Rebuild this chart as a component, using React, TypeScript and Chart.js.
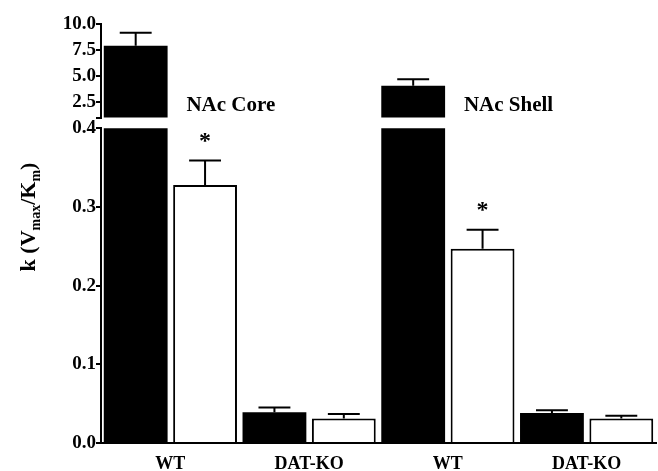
import React, { useEffect, useRef } from "react";
import { Chart, registerables } from "chart.js";

Chart.register(...registerables);

// ---- data ----
const categories = ["WT", "DAT-KO", "WT", "DAT-KO"];
const regionLabels = ["NAc Core", "NAc Shell"];
const regionIndex = [0, 2];
const blackMeans = [7.91, 0.039, 4.07, 0.038];
const blackErrors = [1.25, 0.006, 0.61, 0.0035];
const whiteMeans = [0.328, 0.031, 0.247, 0.031];
const whiteErrors = [0.031, 0.006, 0.024, 0.0035];
const whiteSignificant = [true, false, true, false];
const upperTicks = [2.5, 5.0, 7.5, 10.0];
const lowerTicks = [0.0, 0.1, 0.2, 0.3, 0.4];
const upperRange = [1.0, 10.0];
const lowerRange = [0.0, 0.4];

const W = 658;
const H = 471;
const FONT = "'Liberation Serif', 'Times New Roman', serif";
const AXIS_W = 101;

const errorSets = [blackErrors, whiteErrors];

const errorBarPlugin = {
  id: "errorBars",
  afterDatasetsDraw(chart: any) {
    const { ctx, chartArea } = chart;
    const yScale = chart.scales.y;
    ctx.save();
    ctx.beginPath();
    ctx.rect(chartArea.left, chartArea.top - 1, chartArea.right - chartArea.left, chartArea.bottom - chartArea.top + 1);
    ctx.clip();
    ctx.strokeStyle = "#000";
    ctx.lineWidth = 2;
    chart.data.datasets.forEach((ds: any, di: number) => {
      const meta = chart.getDatasetMeta(di);
      const errs = errorSets[di];
      meta.data.forEach((bar: any, i: number) => {
        const v = ds.data[i];
        const e = errs[i];
        const x = bar.x;
        const half = bar.width / 4;
        const yTop = yScale.getPixelForValue(v);
        const yCap = yScale.getPixelForValue(v + e);
        ctx.beginPath();
        ctx.moveTo(x, yTop);
        ctx.lineTo(x, yCap);
        ctx.moveTo(x - half, yCap);
        ctx.lineTo(x + half, yCap);
        ctx.stroke();
      });
    });
    ctx.restore();
  },
};

const regionLabelPlugin = {
  id: "regionLabels",
  afterDraw(chart: any) {
    const { ctx } = chart;
    const xScale = chart.scales.x;
    const yScale = chart.scales.y;
    ctx.save();
    ctx.font = `bold 21px ${FONT}`;
    ctx.fillStyle = "#000";
    ctx.textAlign = "left";
    ctx.textBaseline = "middle";
    regionLabels.forEach((t, k) => {
      const x = xScale.getPixelForValue(regionIndex[k]) + 16;
      const y = yScale.getPixelForValue(2.2);
      ctx.fillText(t, x, y);
    });
    ctx.restore();
  },
};

const asteriskPlugin = {
  id: "asterisks",
  afterDatasetsDraw(chart: any) {
    const { ctx } = chart;
    const yScale = chart.scales.y;
    const meta = chart.getDatasetMeta(1);
    ctx.save();
    ctx.font = `bold 24px ${FONT}`;
    ctx.fillStyle = "#000";
    ctx.textAlign = "center";
    ctx.textBaseline = "alphabetic";
    meta.data.forEach((bar: any, i: number) => {
      if (!whiteSignificant[i]) return;
      const yCap = yScale.getPixelForValue(whiteMeans[i] + whiteErrors[i]);
      ctx.fillText("*", bar.x, yCap - 13);
    });
    ctx.restore();
  },
};

const yTitlePlugin = {
  id: "yTitle",
  afterDraw(chart: any) {
    const { ctx } = chart;
    const parts: [string, number, number][] = [
      ["k (V", 22, 0],
      ["max", 14, 5],
      ["/K", 22, 0],
      ["m", 14, 5],
      [")", 22, 0],
    ];
    ctx.save();
    ctx.fillStyle = "#000";
    ctx.textBaseline = "alphabetic";
    ctx.textAlign = "left";
    let total = 0;
    const widths = parts.map(([t, s]) => {
      ctx.font = `bold ${s}px ${FONT}`;
      const w = ctx.measureText(t).width;
      total += w;
      return w;
    });
    ctx.translate(35, 217);
    ctx.rotate(-Math.PI / 2);
    let x = -total / 2;
    parts.forEach(([t, s, dy], k) => {
      ctx.font = `bold ${s}px ${FONT}`;
      ctx.fillText(t, x, dy);
      x += widths[k];
    });
    ctx.restore();
  },
};

function datasets() {
  return [
    {
      label: "black",
      data: blackMeans,
      backgroundColor: "#000",
      borderColor: "#000",
      borderWidth: 0,
      clip: 0,
      categoryPercentage: 1,
      barPercentage: 0.92,
    },
    {
      label: "white",
      data: whiteMeans,
      backgroundColor: "#fff",
      borderColor: "#000",
      borderWidth: 2,
      clip: 0,
      categoryPercentage: 1,
      barPercentage: 0.92,
    },
  ];
}

function yAxis(range: number[], tickValues: number[], blankValue: number | null) {
  return {
    min: range[0],
    max: range[1],
    afterBuildTicks: (s: any) => {
      const vals = blankValue === null ? tickValues : [blankValue, ...tickValues];
      s.ticks = vals.map((v) => ({ value: v }));
    },
    afterFit: (s: any) => {
      s.width = AXIS_W;
    },
    grid: {
      display: true,
      drawOnChartArea: false,
      drawTicks: true,
      tickLength: 5,
      tickWidth: 2,
      lineWidth: 2,
      color: "#000",
      tickColor: "#000",
    },
    border: { display: true, color: "#000", width: 2, z: 1 },
    ticks: {
      autoSkip: false,
      padding: 0,
      color: "#000",
      font: { family: FONT, size: 19, weight: "bold" },
      callback: (v: any) => (blankValue !== null && v === blankValue ? "" : Number(v).toFixed(1)),
    },
  };
}

export default function App() {
  const topRef = useRef<HTMLCanvasElement>(null);
  const botRef = useRef<HTMLCanvasElement>(null);

  useEffect(() => {
    const common = {
      animation: false,
      responsive: false,
      devicePixelRatio: 1,
      plugins: { legend: { display: false }, tooltip: { enabled: false } },
    };

    const top = new Chart(topRef.current as HTMLCanvasElement, {
      type: "bar",
      data: { labels: categories, datasets: datasets() as any },
      options: {
        ...common,
        layout: { padding: { top: 24, bottom: H - 117.6, left: 0, right: 2 } },
        scales: {
          x: { display: false },
          y: yAxis(upperRange, upperTicks, upperRange[0]),
        },
      } as any,
      plugins: [errorBarPlugin, regionLabelPlugin],
    });

    const bottom = new Chart(botRef.current as HTMLCanvasElement, {
      type: "bar",
      data: { labels: categories, datasets: datasets() as any },
      options: {
        ...common,
        layout: { padding: { top: 128.3, bottom: 0, left: 0, right: 2 } },
        scales: {
          x: {
            grid: { display: true, drawOnChartArea: false, drawTicks: false },
            border: { display: true, color: "#000", width: 2, z: 1 },
            ticks: {
              autoSkip: false,
              maxRotation: 0,
              padding: 11,
              color: "#000",
              font: { family: FONT, size: 18, weight: "bold" },
            },
            afterFit: (s: any) => {
              s.height = 28;
            },
          },
          y: yAxis(lowerRange, lowerTicks, null),
        },
      } as any,
      plugins: [errorBarPlugin, asteriskPlugin, yTitlePlugin],
    });

    return () => {
      top.destroy();
      bottom.destroy();
    };
  }, []);

  const style: React.CSSProperties = { position: "absolute", left: 0, top: 0 };
  return (
    <div style={{ position: "absolute", left: 0, top: 0, width: W, height: H, background: "#fff" }}>
      <canvas ref={botRef} width={W} height={H} style={style} />
      <canvas ref={topRef} width={W} height={H} style={style} />
    </div>
  );
}
